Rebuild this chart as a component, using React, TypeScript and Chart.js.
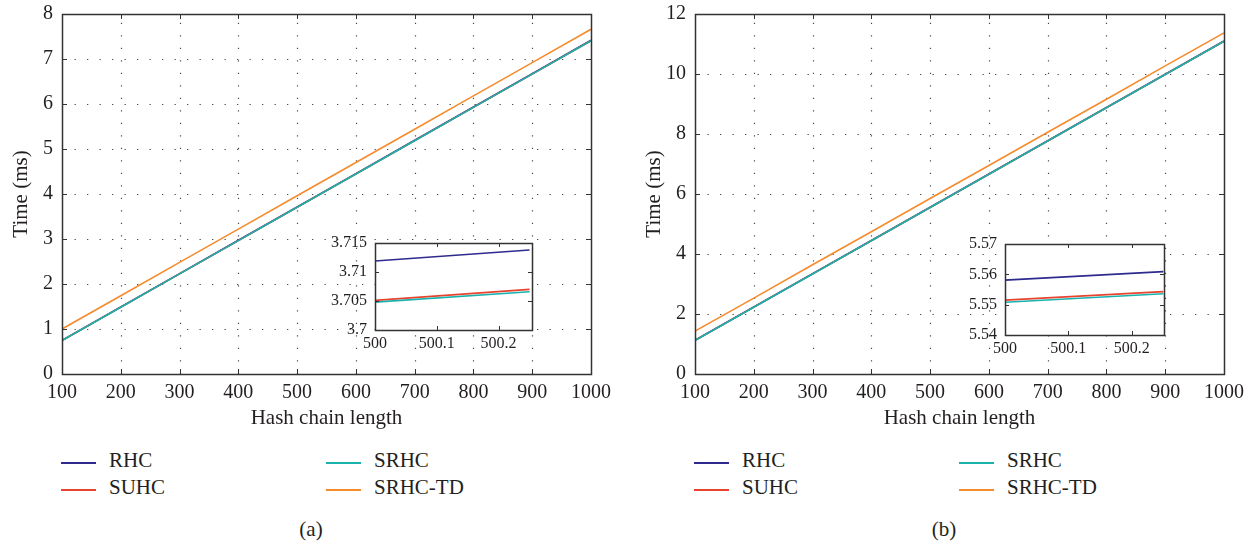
import React, { useEffect, useRef } from 'react';
import { Chart, registerables } from 'chart.js';

Chart.register(...registerables);

// ---------- data ----------
const SERIES_NAMES = ['RHC', 'SUHC', 'SRHC', 'SRHC-TD'];
const SERIES_COLORS = ['#2e2a8e', '#e8432e', '#19b2ad', '#f68b2c'];

const HASH_LENGTHS = [100, 200, 300, 400, 500, 600, 700, 800, 900, 1000];
const X_TICKS = [100, 200, 300, 400, 500, 600, 700, 800, 900, 1000];

// (a)
const A_RHC = [0.748, 1.489, 2.23, 2.971, 3.712, 4.453, 5.194, 5.934, 6.675, 7.416];
const A_SUHC = [0.745, 1.485, 2.225, 2.965, 3.705, 4.445, 5.185, 5.925, 6.665, 7.405];
const A_SRHC = [0.744, 1.484, 2.224, 2.964, 3.704, 4.444, 5.184, 5.924, 6.664, 7.404];
const A_SRHC_TD = [1.0, 1.74, 2.48, 3.22, 3.96, 4.7, 5.44, 6.18, 6.92, 7.66];
const A_Y_TICKS = [0, 1, 2, 3, 4, 5, 6, 7, 8];

// (b)
const B_RHC = [1.126, 2.234, 3.342, 4.45, 5.558, 6.666, 7.774, 8.882, 9.99, 11.098];
const B_SUHC = [1.12, 2.228, 3.336, 4.444, 5.552, 6.66, 7.768, 8.876, 9.984, 11.092];
const B_SRHC = [1.119, 2.227, 3.335, 4.443, 5.551, 6.659, 7.767, 8.875, 9.983, 11.091];
const B_SRHC_TD = [1.43, 2.53, 3.64, 4.74, 5.85, 6.95, 8.06, 9.16, 10.27, 11.37];
const B_Y_TICKS = [0, 2, 4, 6, 8, 10, 12];

// insets
const INSET_X = [500, 500.25];
const INSET_X_TICKS = [500, 500.1, 500.2];
const A_INSET_RHC = [3.7119, 3.7138];
const A_INSET_SUHC = [3.7051, 3.707];
const A_INSET_SRHC = [3.7048, 3.7066];
const A_INSET_Y_TICKS = [3.7, 3.705, 3.71, 3.715];
const B_INSET_RHC = [5.5581, 5.5609];
const B_INSET_SUHC = [5.5515, 5.5543];
const B_INSET_SRHC = [5.5508, 5.5536];
const B_INSET_Y_TICKS = [5.54, 5.55, 5.56, 5.57];

const FONT = '"Liberation Serif", "Times New Roman", serif';
const TEXT_COLOR = '#231f20';

// ---------- plugin: dotted grid, frame, inward ticks ----------
const framePlugin = {
  id: 'frame',
  beforeDatasetsDraw(chart: any, _args: any, opts: any) {
    const { ctx, chartArea: a, scales } = chart;
    const x = scales.x;
    const y = scales.y;
    ctx.save();
    if (opts.fill) {
      ctx.fillStyle = '#ffffff';
      ctx.fillRect(a.left, a.top, a.right - a.left, a.bottom - a.top);
    }
    if (opts.grid) {
      ctx.strokeStyle = '#4a4a4a';
      ctx.lineWidth = 1.2;
      ctx.setLineDash([1.3, 11.2]);
      x.ticks.forEach((t: any) => {
        const px = Math.round(x.getPixelForValue(t.value)) + 0.5;
        if (px > a.left + 2 && px < a.right - 2) {
          ctx.beginPath();
          ctx.moveTo(px, a.bottom);
          ctx.lineTo(px, a.top);
          ctx.stroke();
        }
      });
      y.ticks.forEach((t: any) => {
        const py = Math.round(y.getPixelForValue(t.value)) + 0.5;
        if (py > a.top + 2 && py < a.bottom - 2) {
          ctx.beginPath();
          ctx.moveTo(a.left, py);
          ctx.lineTo(a.right, py);
          ctx.stroke();
        }
      });
    }
    ctx.restore();
  },
  afterDatasetsDraw(chart: any, _args: any, opts: any) {
    const { ctx, chartArea: a, scales } = chart;
    const x = scales.x;
    const y = scales.y;
    const len = opts.tickLen || 5;
    ctx.save();
    ctx.setLineDash([]);
    ctx.strokeStyle = '#333333';
    ctx.lineWidth = 1;
    x.ticks.forEach((t: any) => {
      const px = Math.round(x.getPixelForValue(t.value)) + 0.5;
      ctx.beginPath();
      ctx.moveTo(px, a.bottom);
      ctx.lineTo(px, a.bottom - len);
      ctx.moveTo(px, a.top);
      ctx.lineTo(px, a.top + len);
      ctx.stroke();
    });
    y.ticks.forEach((t: any) => {
      const py = Math.round(y.getPixelForValue(t.value)) + 0.5;
      ctx.beginPath();
      ctx.moveTo(a.left, py);
      ctx.lineTo(a.left + len, py);
      ctx.moveTo(a.right, py);
      ctx.lineTo(a.right - len, py);
      ctx.stroke();
    });
    ctx.lineWidth = 1.5;
    ctx.strokeStyle = '#333333';
    ctx.strokeRect(Math.round(a.left) + 0.5, Math.round(a.top) + 0.5, Math.round(a.right - a.left), Math.round(a.bottom - a.top));
    ctx.restore();
  },
};

type Cfg = {
  xs: number[];
  series: number[][];
  colors: string[];
  names: string[];
  xMin: number;
  xMax: number;
  xTicks: number[];
  yMin: number;
  yMax: number;
  yTicks: number[];
  yWidth: number;
  xHeight: number;
  padding: { left: number; top: number; right: number; bottom: number };
  tickSize: number;
  tickPadX: number;
  tickPadY: number;
  titles: boolean;
  inset: boolean;
};

function buildConfig(c: Cfg): any {
  const orders = [3, 2, 0, 1];
  return {
    type: 'line',
    data: {
      datasets: c.series.map((vals, i) => ({
        label: c.names[i],
        data: vals.map((v, j) => ({ x: c.xs[j], y: v })),
        borderColor: c.colors[i],
        backgroundColor: c.colors[i],
        borderWidth: 1.6,
        pointRadius: 0,
        fill: false,
        tension: 0,
        order: orders[i],
      })),
    },
    options: {
      responsive: false,
      animation: false,
      devicePixelRatio: 1,
      layout: { padding: c.padding },
      plugins: {
        legend: { display: false },
        tooltip: { enabled: false },
        frame: { grid: !c.inset, fill: c.inset, tickLen: c.inset ? 4 : 5 },
      },
      scales: {
        x: {
          type: 'linear',
          min: c.xMin,
          max: c.xMax,
          afterBuildTicks: (s: any) => {
            s.ticks = c.xTicks.map((v) => ({ value: v }));
          },
          afterFit: (s: any) => {
            s.height = c.xHeight;
            s.paddingLeft = 0;
            s.paddingRight = 0;
          },
          grid: { display: false, drawTicks: false },
          border: { display: false },
          ticks: {
            autoSkip: false,
            maxRotation: 0,
            padding: c.tickPadX,
            color: TEXT_COLOR,
            font: { family: FONT, size: c.tickSize },
            callback: (v: any) => String(v),
          },
          title: {
            display: c.titles,
            text: 'Hash chain length',
            color: TEXT_COLOR,
            font: { family: FONT, size: 21 },
            padding: { top: 0, bottom: 0 },
          },
        },
        y: {
          type: 'linear',
          min: c.yMin,
          max: c.yMax,
          afterBuildTicks: (s: any) => {
            s.ticks = c.yTicks.map((v) => ({ value: v }));
          },
          afterFit: (s: any) => {
            s.width = c.yWidth;
            s.paddingTop = 0;
            s.paddingBottom = 0;
          },
          grid: { display: false, drawTicks: false },
          border: { display: false },
          ticks: {
            autoSkip: false,
            padding: c.tickPadY,
            color: TEXT_COLOR,
            font: { family: FONT, size: c.tickSize },
            callback: (v: any) => String(v),
          },
          title: {
            display: c.titles,
            text: 'Time (ms)',
            color: TEXT_COLOR,
            font: { family: FONT, size: 21 },
            padding: { top: 9, bottom: 0 },
          },
        },
      },
    },
    plugins: [framePlugin],
  };
}

function ChartCanvas({ left, top, width, height, cfg }: { left: number; top: number; width: number; height: number; cfg: Cfg }) {
  const ref = useRef<HTMLCanvasElement | null>(null);
  useEffect(() => {
    const chart = new Chart(ref.current as HTMLCanvasElement, buildConfig(cfg));
    return () => chart.destroy();
  }, []);
  return (
    <div style={{ position: 'absolute', left, top, width, height }}>
      <canvas ref={ref} width={width} height={height} style={{ display: 'block', width, height }} />
    </div>
  );
}

function Legend({ left, captionX, caption }: { left: number; captionX: number; caption: string }) {
  const items: React.ReactNode[] = [];
  const colOffsets = [0, 265];
  const rowCenters = [463, 490];
  [[0, 2], [1, 3]].forEach((pair, row) => {
    pair.forEach((idx, col) => {
      const x0 = left + colOffsets[col];
      const cy = rowCenters[row];
      items.push(
        <div key={`l${idx}`} style={{ position: 'absolute', left: x0, top: cy - 1, width: 35, height: 2, background: SERIES_COLORS[idx] }} />
      );
      items.push(
        <div
          key={`t${idx}`}
          style={{ position: 'absolute', left: x0 + 48, top: cy - 13, fontFamily: FONT, fontSize: 21, lineHeight: '21px', color: TEXT_COLOR, whiteSpace: 'nowrap' }}
        >
          {SERIES_NAMES[idx]}
        </div>
      );
    });
  });
  items.push(
    <div
      key="cap"
      style={{ position: 'absolute', left: captionX - 40, width: 80, top: 519, textAlign: 'center', fontFamily: FONT, fontSize: 21, lineHeight: '21px', color: TEXT_COLOR }}
    >
      {caption}
    </div>
  );
  return <>{items}</>;
}

export default function App() {
  const mainA: Cfg = {
    xs: HASH_LENGTHS,
    series: [A_RHC, A_SUHC, A_SRHC, A_SRHC_TD],
    colors: SERIES_COLORS,
    names: SERIES_NAMES,
    xMin: 100,
    xMax: 1000,
    xTicks: X_TICKS,
    yMin: 0,
    yMax: 8,
    yTicks: A_Y_TICKS,
    yWidth: 62,
    xHeight: 57,
    padding: { left: 0, top: 14, right: 29, bottom: 9 },
    tickSize: 20,
    tickPadX: 7,
    tickPadY: 9,
    titles: true,
    inset: false,
  };
  const mainB: Cfg = {
    ...mainA,
    series: [B_RHC, B_SUHC, B_SRHC, B_SRHC_TD],
    yMax: 12,
    yTicks: B_Y_TICKS,
  };
  const insetA: Cfg = {
    xs: INSET_X,
    series: [A_INSET_RHC, A_INSET_SUHC, A_INSET_SRHC],
    colors: SERIES_COLORS,
    names: SERIES_NAMES,
    xMin: 500,
    xMax: 500.254,
    xTicks: INSET_X_TICKS,
    yMin: 3.7,
    yMax: 3.715,
    yTicks: A_INSET_Y_TICKS,
    yWidth: 50,
    xHeight: 22,
    padding: { left: 0, top: 10, right: 8, bottom: 6 },
    tickSize: 16,
    tickPadX: 4,
    tickPadY: 8,
    titles: false,
    inset: true,
  };
  const insetB: Cfg = {
    ...insetA,
    series: [B_INSET_RHC, B_INSET_SUHC, B_INSET_SRHC],
    yMin: 5.54,
    yMax: 5.57,
    yTicks: B_INSET_Y_TICKS,
    xMax: 500.251,
    padding: { left: 0, top: 10, right: 6, bottom: 2 },
  };
  return (
    <div style={{ position: 'absolute', left: 0, top: 0, width: 1255, height: 546, background: '#ffffff', overflow: 'hidden' }}>
      <ChartCanvas left={0} top={0} width={620} height={440} cfg={mainA} />
      <ChartCanvas left={633} top={0} width={620} height={440} cfg={mainB} />
      <ChartCanvas left={325} top={233} width={215} height={125} cfg={insetA} />
      <ChartCanvas left={955} top={234} width={215} height={125} cfg={insetB} />
      <Legend left={61} captionX={311} caption="(a)" />
      <Legend left={694} captionX={944} caption="(b)" />
    </div>
  );
}
